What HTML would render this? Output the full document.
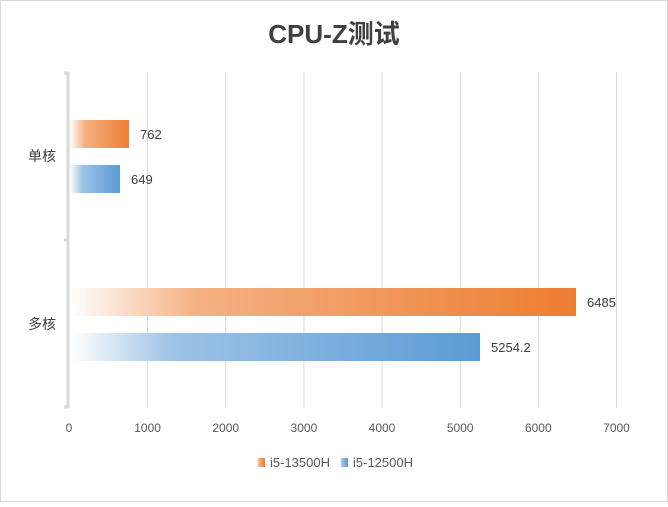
<!DOCTYPE html><html><head><meta charset="utf-8"><style>body{margin:0;background:#fff}</style></head><body>
<svg width="668" height="502" xmlns="http://www.w3.org/2000/svg" font-family="Liberation Sans, Noto Sans CJK SC, sans-serif">
<defs>
<linearGradient id="o" x1="0" x2="1"><stop offset="0" stop-color="#fff"/><stop offset="0.25" stop-color="#f4b183"/><stop offset="1" stop-color="#ed7d31"/></linearGradient>
<linearGradient id="b" x1="0" x2="1"><stop offset="0" stop-color="#fff"/><stop offset="0.25" stop-color="#9dc3e6"/><stop offset="1" stop-color="#5b9bd5"/></linearGradient>
</defs>
<rect x="0.5" y="0.5" width="667" height="501" fill="#fff" stroke="#d9d9d9"/>
<text x="334" y="43" text-anchor="middle" font-size="26" font-weight="bold" fill="#404040">CPU-Z测试</text>
<g stroke="#d9d9d9" stroke-width="1">
<line x1="147.6" y1="72" x2="147.6" y2="408"/><line x1="225.7" y1="72" x2="225.7" y2="408"/><line x1="303.9" y1="72" x2="303.9" y2="408"/><line x1="382" y1="72" x2="382" y2="408"/><line x1="460.2" y1="72" x2="460.2" y2="408"/><line x1="538.3" y1="72" x2="538.3" y2="408"/><line x1="616.5" y1="72" x2="616.5" y2="408"/>
</g>
<g stroke="#d9d9d9" stroke-width="3" fill="none"><line x1="68" y1="72" x2="68" y2="408"/><line x1="64" y1="73" x2="68" y2="73"/><line x1="64" y1="240" x2="68" y2="240"/><line x1="64" y1="407" x2="68" y2="407"/></g>
<rect x="70" y="120" width="59" height="28" fill="url(#o)"/>
<rect x="70" y="165" width="50" height="28" fill="url(#b)"/>
<rect x="70" y="288" width="506" height="28" fill="url(#o)"/>
<rect x="70" y="333" width="410" height="28" fill="url(#b)"/>
<g font-size="13" fill="#404040">
<text x="140" y="139">762</text><text x="131" y="184">649</text><text x="587" y="307">6485</text><text x="491" y="352">5254.2</text>
<text x="28" y="161" font-size="14">单核</text><text x="28" y="329" font-size="14">多核</text>
</g>
<g font-size="12" fill="#595959" text-anchor="middle">
<text x="69" y="432">0</text><text x="147.6" y="432">1000</text><text x="225.7" y="432">2000</text><text x="303.9" y="432">3000</text><text x="382" y="432">4000</text><text x="460.2" y="432">5000</text><text x="538.3" y="432">6000</text><text x="616.5" y="432">7000</text>
</g>
<rect x="257" y="458" width="8" height="9" fill="url(#o)"/>
<text x="270" y="467" font-size="13" fill="#595959">i5-13500H</text>
<rect x="340" y="458" width="8" height="9" fill="url(#b)"/>
<text x="353" y="467" font-size="13" fill="#595959">i5-12500H</text>
</svg>
</body></html>
